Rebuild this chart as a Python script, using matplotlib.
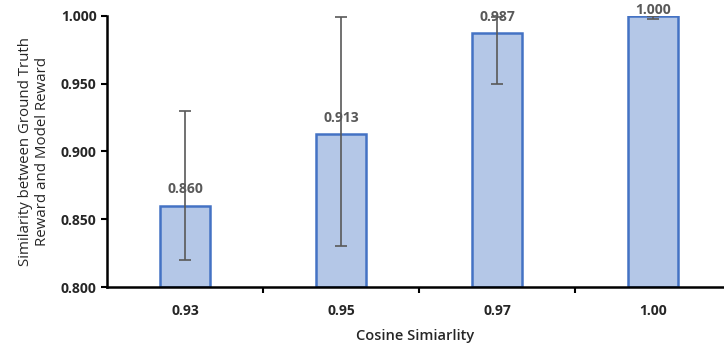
import matplotlib.pyplot as plt
from matplotlib.ticker import FormatStrFormatter

plt.rcParams["font.family"] = ["Open Sans", "DejaVu Sans"]

categories = ["0.93", "0.95", "0.97", "1.00"]
similarity = [0.860, 0.913, 0.987, 1.000]
err_low = [0.820, 0.830, 0.950, 0.998]
err_high = [0.930, 0.999, 0.999, 1.000]

fig = plt.figure(figsize=(7.24, 3.45), dpi=100)
ax = fig.add_axes([0.148, 0.168, 0.852, 0.786])

x = range(len(categories))
yerr = [[v - lo for v, lo in zip(similarity, err_low)],
        [hi - v for v, hi in zip(similarity, err_high)]]

ax.bar(x, [v - 0.8 for v in similarity], bottom=0.8, width=0.32,
       color="#B4C7E7", edgecolor="#4472C4", linewidth=1.8, zorder=2)

for i, v in enumerate(similarity):
    ax.text(i, min(v + 0.012, 1.0044), f"{v:.3f}", ha="center", va="center",
            fontsize=10, fontweight="bold", color="#595959", zorder=3,
            clip_on=False)

ax.errorbar(x, similarity, yerr=yerr, fmt="none", ecolor="#595959",
            elinewidth=1.2, capsize=4, capthick=1.2, zorder=4)

ax.set_ylim(0.8, 1.0)
ax.set_xlim(-0.5, 3.455)
ax.set_yticks([0.80, 0.85, 0.90, 0.95, 1.00])
ax.yaxis.set_major_formatter(FormatStrFormatter("%.3f"))

ax.set_xticks(list(x))
ax.set_xticklabels(categories)
ax.set_xticks([0.5, 1.5, 2.5], minor=True)
ax.tick_params(axis="x", which="major", length=0, pad=12)
ax.tick_params(axis="x", which="minor", length=4, width=1.5, direction="out")
ax.tick_params(axis="y", length=4, width=1.5, direction="out")
for lab in ax.get_xticklabels() + ax.get_yticklabels():
    lab.set_fontweight("bold")
    lab.set_fontsize(10)
    lab.set_color("#262626")

ax.spines["top"].set_visible(False)
ax.spines["right"].set_visible(False)
ax.spines["left"].set_linewidth(1.8)
ax.spines["bottom"].set_linewidth(1.8)

ax.set_xlabel("Cosine Simiarlity", fontsize=10.5, fontweight="semibold",
              color="#262626", labelpad=8)
ax.set_ylabel("Similarity between Ground Truth\nReward and Model Reward",
              fontsize=10.8, color="#262626", labelpad=8)

fig.savefig("out.png", dpi=100)
